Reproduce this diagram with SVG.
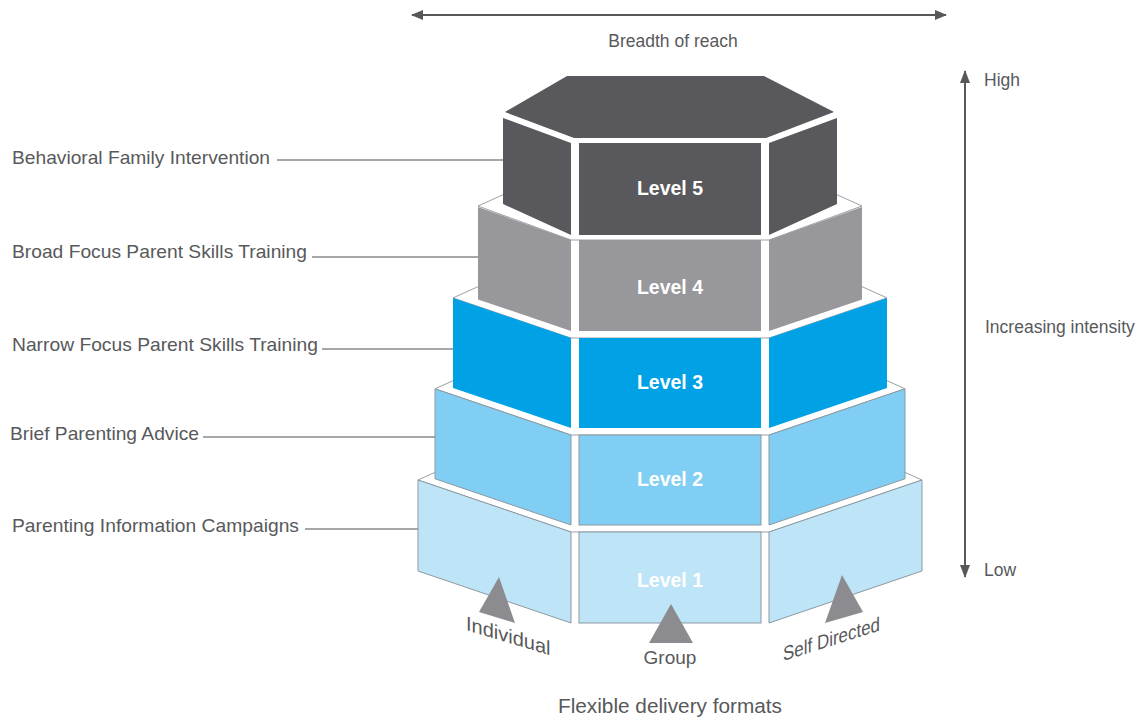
<svg xmlns="http://www.w3.org/2000/svg" width="1141" height="722" viewBox="0 0 1141 722">
<defs>
<style>
.t{font-family:"Liberation Sans",Arial,sans-serif;fill:#58595b}
.lvl{font-family:"Liberation Sans",Arial,sans-serif;font-weight:bold;font-size:19.5px;fill:#ffffff;text-anchor:middle}
.bk{fill:#ffffff}
.hx{fill:#ffffff;stroke:#9aa1a6;stroke-width:1}
.ol{stroke:#8d999f;stroke-width:1}
.lead{stroke:#8a8a8c;stroke-width:1.3;fill:none}
.ax{stroke:#58585a;stroke-width:2;fill:none}
.tri{fill:#8c8c90}
</style>
<marker id="ah" viewBox="0 0 12 10" refX="11" refY="5" markerWidth="12" markerHeight="10" markerUnits="userSpaceOnUse" orient="auto-start-reverse">
<path d="M0,0 L12,5 L0,10 Z" fill="#58585a"/>
</marker>
<marker id="ahv" viewBox="0 0 13 10" refX="12" refY="5" markerWidth="13" markerHeight="10" markerUnits="userSpaceOnUse" orient="auto-start-reverse">
<path d="M0,0 L13,5 L0,10 Z" fill="#58585a"/>
</marker>
</defs>
<rect width="1141" height="722" fill="#ffffff"/>

<g id="level-1">
<polygon class="bk" points="418,480 498,444 842,444 922,480 922,571 769,623 571,623 418,571"/>
<polygon class="hx" points="418,480 498,444 842,444 922,480 769,532 571,532"/>
<polygon class="ol" fill="#bee4f8" points="418,480 571,532 571,623 418,571"/>
<rect class="ol" fill="#bee4f8" x="579" y="532" width="182" height="91"/>
<polygon class="ol" fill="#bee4f8" points="769,532 922,480 922,571 769,623"/>
<text class="lvl" x="670" y="587">Level 1</text>
</g>

<g id="level-2">
<polygon class="bk" points="435,388.8 515,352.8 825,352.8 905,388.8 905,478.8 769,525 571,525 435,478.8"/>
<polygon class="hx" points="435,388.8 515,352.8 825,352.8 905,388.8 769,435 571,435"/>
<polygon class="ol" fill="#80cef3" points="435,388.8 571,435 571,525 435,478.8"/>
<rect class="ol" fill="#80cef3" x="579" y="435" width="182" height="90"/>
<polygon class="ol" fill="#80cef3" points="769,435 905,388.8 905,478.8 769,525"/>
<text class="lvl" x="670" y="486">Level 2</text>
</g>

<g id="level-3">
<polygon class="bk" points="453,297.9 533,261.9 807,261.9 887,297.9 887,387.9 769,428 571,428 453,387.9"/>
<polygon class="hx" points="453,297.9 533,261.9 807,261.9 887,297.9 769,338 571,338"/>
<polygon fill="#00a1e5" points="453,297.9 571,338 571,428 453,387.9"/>
<rect fill="#00a1e5" x="579" y="338" width="182" height="90"/>
<polygon fill="#00a1e5" points="769,338 887,297.9 887,387.9 769,428"/>
<text class="lvl" x="670" y="389">Level 3</text>
</g>

<g id="level-4">
<polygon class="bk" points="478,206 558,170 782,170 862,206 862,299.4 769,331 571,331 478,299.4"/>
<polygon class="hx" points="478,206 558,170 782,170 862,206 769,240 571,240"/>
<polygon fill="#98989c" points="478,207 571,240 571,331 478,299.4"/>
<rect fill="#98989c" x="579" y="240" width="182" height="91"/>
<polygon fill="#98989c" points="769,240 862,207 862,299.4 769,331"/>
<text class="lvl" x="670" y="294">Level 4</text>
</g>

<g id="level-5">
<polygon class="bk" points="505,112 567,76 764,76 834,112 837,118 837,204 769,235 571,235 503,204 503,118"/>
<polygon fill="#59585d" points="505,112 567,76 764,76 834,112 766,138 574,138"/>
<polygon fill="#59585d" points="503,118 571,143 571,235 503,204"/>
<rect fill="#59585d" x="579" y="143" width="182" height="92"/>
<polygon fill="#59585d" points="769,143 837,118 837,204 769,235"/>
<text class="lvl" x="670" y="195">Level 5</text>
</g>

<g id="connectors">
<line class="lead" x1="277" y1="160" x2="503" y2="160"/>
<line class="lead" x1="312" y1="257" x2="478" y2="257"/>
<line class="lead" x1="322" y1="349" x2="453" y2="349"/>
<line class="lead" x1="203" y1="437" x2="435" y2="437"/>
<line class="lead" x1="305" y1="529" x2="418" y2="529"/>
</g>

<g id="label-behavioral"><text class="t" x="12" y="164" font-size="19" textLength="258" lengthAdjust="spacingAndGlyphs">Behavioral Family Intervention</text></g>
<g id="label-broad"><text class="t" x="12" y="258" font-size="19" textLength="295" lengthAdjust="spacingAndGlyphs">Broad Focus Parent Skills Training</text></g>
<g id="label-narrow"><text class="t" x="12" y="351" font-size="19" textLength="306" lengthAdjust="spacingAndGlyphs">Narrow Focus Parent Skills Training</text></g>
<g id="label-brief"><text class="t" x="10" y="440" font-size="19" textLength="189" lengthAdjust="spacingAndGlyphs">Brief Parenting Advice</text></g>
<g id="label-info"><text class="t" x="12" y="532" font-size="19" textLength="287" lengthAdjust="spacingAndGlyphs">Parenting Information Campaigns</text></g>

<g id="axis-reach">
<line class="ax" x1="412" y1="15" x2="946" y2="15" marker-start="url(#ah)" marker-end="url(#ah)"/>
<text class="t" x="673" y="47" font-size="17.5" text-anchor="middle">Breadth of reach</text>
</g>

<g id="axis-intensity">
<line class="ax" x1="965" y1="71" x2="965" y2="577" marker-start="url(#ahv)" marker-end="url(#ahv)"/>
<text class="t" x="984" y="86" font-size="17.5">High</text>
<text class="t" x="985" y="333" font-size="17.5">Increasing intensity</text>
<text class="t" x="984" y="576" font-size="17.5">Low</text>
</g>

<g id="format-individual">
<polygon class="tri" points="499,577 479,612 515,623"/>
<text class="t" font-size="20" transform="translate(466,630) skewY(16.7)">Individual</text>
</g>
<g id="format-group">
<polygon class="tri" points="671,604 649,643 693,643"/>
<text class="t" x="670" y="664" font-size="19" text-anchor="middle">Group</text>
</g>
<g id="format-self">
<polygon class="tri" points="842,575 825,623 863,612"/>
<text class="t" font-size="20" textLength="97" lengthAdjust="spacingAndGlyphs" transform="translate(783,661) skewY(-17.5)">Self Directed</text>
</g>

<g id="caption">
<text class="t" x="670" y="713" font-size="20.5" text-anchor="middle" textLength="224" lengthAdjust="spacingAndGlyphs">Flexible delivery formats</text>
</g>
</svg>
